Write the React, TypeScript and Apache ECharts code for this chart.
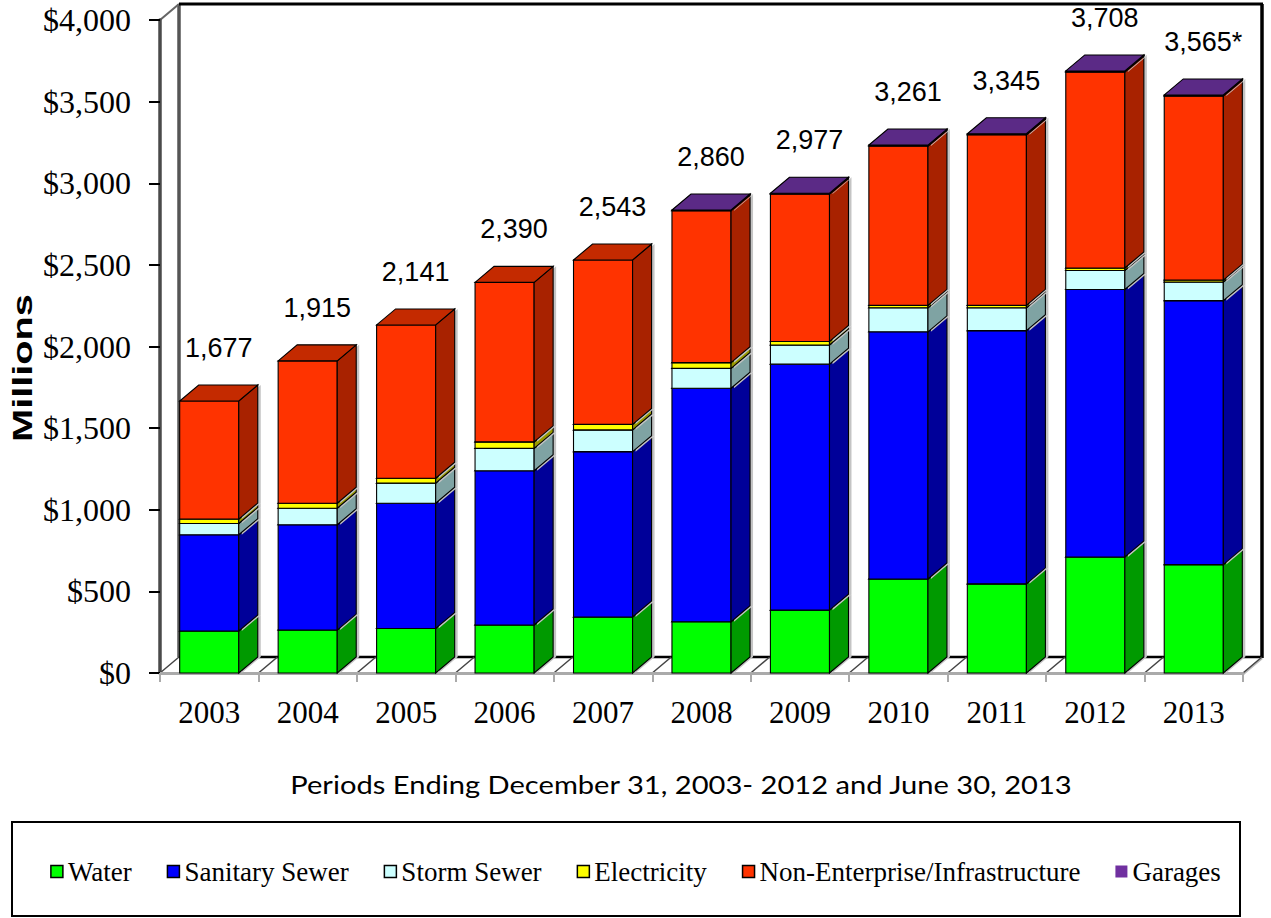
import React, { useEffect, useRef } from "react";
import * as echarts from "echarts";

// ---- data (US$ millions) ----
const years = ["2003", "2004", "2005", "2006", "2007", "2008", "2009", "2010", "2011", "2012", "2013"];
const water = [257, 263, 273, 294, 343, 314, 385, 576, 546, 711, 664];
const sanitarySewer = [590, 645, 767, 945, 1013, 1430, 1507, 1514, 1551, 1638, 1617];
const stormSewer = [69, 101, 123, 137, 133, 122, 117, 147, 140, 117, 114];
const electricity = [27, 31, 30, 40, 34, 35, 22, 15, 15, 15, 12];
const nonEnterprise = [723, 872, 939, 977, 1007, 931, 903, 976, 1045, 1201, 1128];
const garages = [0, 0, 0, 0, 0, 4, 5, 6, 6, 6, 6];
const totalLabels = ["1,677", "1,915", "2,141", "2,390", "2,543", "2,860", "2,977", "3,261", "3,345", "3,708", "3,565*"];
const yMin = 0;
const yMax = 4000;
const yStep = 500;

const seriesDefs = [
  { name: "Water", data: water, front: "#00FF00", side: "#009A00", top: "#00C800", border: true },
  { name: "Sanitary Sewer", data: sanitarySewer, front: "#0000FF", side: "#000099", top: "#0000CC", border: true },
  { name: "Storm Sewer", data: stormSewer, front: "#CCFFFF", side: "#7FA3A3", top: "#A6CCCC", border: true },
  { name: "Electricity", data: electricity, front: "#FFFF00", side: "#999900", top: "#CCCC00", border: true },
  { name: "Non-Enterprise/Infrastructure", data: nonEnterprise, front: "#FF3300", side: "#A82200", top: "#C42A00", border: true },
  { name: "Garages", data: garages, front: "#7030A0", side: "#4A1E6C", top: "#5B2A86", border: false },
];

// ---- layout ----
const W = 1271;
const H = 918;
const GL = 160;
const GR = 1243;
const GT = 20;
const GB = 673;
const DX = 19;
const DY = -16;
const BAR_RATIO = 0.6;
const SERIF = "'Liberation Serif', 'Times New Roman', serif";

export default function App() {
  const ref = useRef<HTMLDivElement>(null);

  useEffect(() => {
    if (!ref.current) return;
    const chart = echarts.init(ref.current, null, { renderer: "svg" });

    const n = years.length;
    const bases: number[][] = [];
    const running = new Array(n).fill(0);
    seriesDefs.forEach((s) => {
      bases.push(running.slice());
      s.data.forEach((v, i) => (running[i] += v));
    });
    const stackTops = running.slice();

    const barSeries = seriesDefs.map((s, si) => ({
      type: "custom",
      name: s.name,
      clip: false,
      itemStyle: { color: s.front },
      z: 5,
      data: s.data.map((v, i) => [i, bases[si][i], v]),
      encode: { x: 0, y: [1, 2] },
      renderItem: (params: any, api: any) => {
        const idx = api.value(0);
        const base = api.value(1);
        const v = api.value(2);
        if (!(v > 0)) return null;
        const pB = api.coord([idx, base]);
        const pT = api.coord([idx, base + v]);
        const band = api.size([1, 0])[0];
        const w = band * BAR_RATIO;
        const x0 = pB[0] - w / 2;
        const x1 = pB[0] + w / 2;
        const yb = pB[1];
        const yt = pT[1];
        const stroke = { stroke: "#000", lineWidth: 1.1 };
        return {
          type: "group",
          children: [
            {
              type: "polygon",
              shape: { points: [[x1 + 3, yb], [x1 + DX + 3, yb + DY], [x1 + DX + 3, yt + DY], [x1 + 3, yt]] },
              style: { fill: "#c4c4c4" },
            },
            {
              type: "rect",
              shape: { x: x0, y: yt, width: w, height: yb - yt },
              style: { fill: s.front, ...stroke },
            },
            {
              type: "polygon",
              shape: { points: [[x1, yb], [x1 + DX, yb + DY], [x1 + DX, yt + DY], [x1, yt]] },
              style: { fill: s.side, ...stroke },
            },
            {
              type: "polygon",
              shape: { points: [[x0, yt], [x1, yt], [x1 + DX, yt + DY], [x0 + DX, yt + DY]] },
              style: { fill: s.top, ...stroke },
            },
          ],
        };
      },
    }));

    const labelSeries = {
      type: "custom",
      name: "totals",
      clip: false,
      z: 6,
      silent: true,
      data: stackTops.map((t, i) => [i, t]),
      encode: { x: 0, y: 1 },
      renderItem: (params: any, api: any) => {
        const idx = api.value(0);
        const t = api.value(1);
        const p = api.coord([idx, t]);
        return {
          type: "text",
          x: p[0] + DX / 2,
          y: p[1] - 53,
          style: {
            text: totalLabels[idx],
            fill: "#000",
            font: "27px 'Liberation Sans', Arial, sans-serif",
            align: "center",
            verticalAlign: "middle",
          },
        };
      },
    };

    const band = (GR - GL) / years.length;
    const floorTicks: any[] = [];
    for (let k = 0; k <= years.length; k++) {
      const xb = GL + k * band;
      floorTicks.push({
        type: "line",
        shape: { x1: xb, y1: GB, x2: xb + DX, y2: GB + DY },
        style: { stroke: "#444", lineWidth: 1.5 },
        z: 1,
      });
    }

    chart.setOption({
      animation: false,
      backgroundColor: "#fff",
      grid: { left: GL, top: GT, width: GR - GL, height: GB - GT, containLabel: false },
      xAxis: {
        type: "category",
        data: years,
        boundaryGap: true,
        axisLine: { show: true, lineStyle: { color: "#aaa", width: 3 } },
        axisTick: { show: true, length: 9, lineStyle: { color: "#aaa", width: 2 } },
        axisLabel: {
          margin: 24,
          color: "#000",
          fontSize: 31,
          fontFamily: SERIF,
        },
        splitLine: { show: false },
        z: 3,
      },
      yAxis: {
        type: "value",
        min: yMin,
        max: yMax,
        interval: yStep,
        axisLine: { show: true, lineStyle: { color: "#4a4a4a", width: 3.5 } },
        axisTick: { show: true, length: 11, lineStyle: { color: "#000", width: 2 } },
        axisLabel: {
          margin: 29,
          color: "#000",
          fontSize: 32,
          fontFamily: SERIF,
          formatter: (v: number) => "$" + v.toLocaleString("en-US"),
        },
        splitLine: { show: false },
        z: 3,
      },
      legend: {
        left: "center",
        top: 858,
        icon: "rect",
        itemWidth: 12,
        itemHeight: 12,
        itemGap: 35,
        padding: 0,
        textStyle: {
          color: "#000",
          fontSize: 27,
          fontFamily: SERIF,
        },
        data: seriesDefs.map((s) => ({
          name: s.name,
          itemStyle: { color: s.front, borderColor: "#000", borderWidth: s.border ? 1.5 : 0 },
        })),
      },
      graphic: [
        // side wall & back wall
        { type: "line", shape: { x1: GL + DX, y1: GT + DY, x2: GL + DX, y2: GB + DY }, style: { stroke: "#555", lineWidth: 3.5 }, z: 1 },
        { type: "line", shape: { x1: GL, y1: GT, x2: GL + DX, y2: GT + DY }, style: { stroke: "#666", lineWidth: 2 }, z: 1 },
        { type: "line", shape: { x1: GL + DX, y1: GT + DY, x2: GR + DX + 1, y2: GT + DY }, style: { stroke: "#000", lineWidth: 3 }, z: 1 },
        { type: "line", shape: { x1: GR + DX, y1: GT + DY, x2: GR + DX, y2: GB + DY + 1 }, style: { stroke: "#000", lineWidth: 3.5 }, z: 1 },
        { type: "line", shape: { x1: GL + DX, y1: GB + DY, x2: GR + DX, y2: GB + DY }, style: { stroke: "#000", lineWidth: 2.5 }, z: 1 },
        { type: "line", shape: { x1: GR, y1: GB + 1, x2: GR + DX, y2: GB + DY + 1 }, style: { stroke: "#bbb", lineWidth: 2.5 }, z: 1 },
        ...floorTicks,
        // axis titles
        {
          type: "text",
          x: 22,
          y: 368,
          rotation: Math.PI / 2,
          scaleX: 1.42,
          style: {
            text: "Millions",
            fill: "#000",
            font: "bold 28px 'Liberation Sans', Arial, sans-serif",
            align: "center",
            verticalAlign: "middle",
          },
        },
        {
          type: "text",
          x: 681,
          y: 784,
          scaleX: 1.12,
          style: {
            text: "Periods Ending December 31, 2003- 2012 and June 30, 2013",
            fill: "#000",
            font: "26px Lato, 'Open Sans', sans-serif",
            align: "center",
            verticalAlign: "middle",
          },
        },
        // legend box
        {
          type: "rect",
          shape: { x: 12, y: 822, width: 1228, height: 94 },
          style: { fill: "none", stroke: "#000", lineWidth: 2 },
          z: 0,
        },
      ],
      series: [...barSeries, labelSeries],
    });

    return () => chart.dispose();
  }, []);

  return (
    <div
      ref={ref}
      style={{ position: "fixed", left: 0, top: 0, width: W, height: H, background: "#fff" }}
    />
  );
}
